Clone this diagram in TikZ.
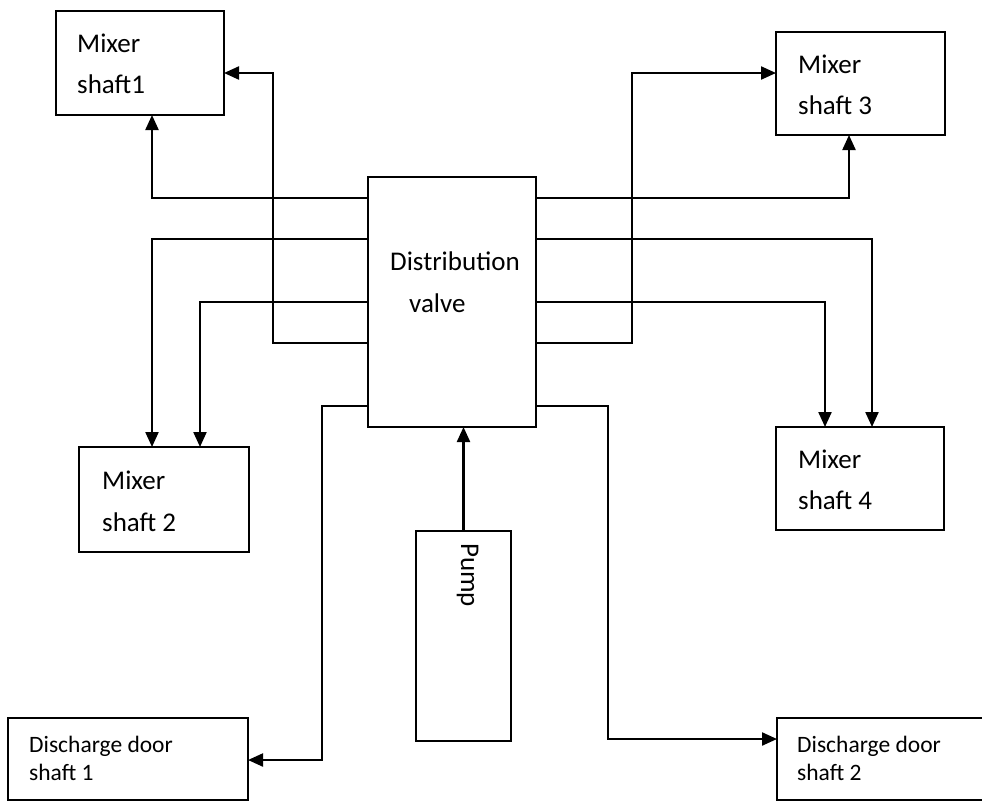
\documentclass[tikz,border=0pt]{standalone}
\usepackage{fontspec}
\setmainfont{Carlito}
\usetikzlibrary{arrows.meta}
\begin{document}
\begin{tikzpicture}[x=1pt,y=-1pt,
  box/.style={draw=black, line width=1.7pt, inner sep=0pt, outer sep=0pt, fill=white},
  lbl/.style={anchor=base west, inner sep=0pt, font=\fontsize{27}{30}\selectfont},
  slbl/.style={anchor=base west, inner sep=0pt, font=\fontsize{23.5}{26}\selectfont},
  flow/.style={line width=2.2pt, -{Triangle[length=15pt,width=13pt]}}]
\useasboundingbox (0,0) rectangle (982,801);
\clip (0,0) rectangle (982,801);

% boxes
\node[box, minimum width=168pt, minimum height=250pt] (valve) at (452,302) {};
\node[box, minimum width=168pt, minimum height=104pt] (ms1) at (140,63) {};
\node[box, minimum width=169pt, minimum height=103pt] (ms3) at (860.5,83.5) {};
\node[box, minimum width=170pt, minimum height=105pt] (ms2) at (164,499.5) {};
\node[box, minimum width=168pt, minimum height=103pt] (ms4) at (860,478.5) {};
\node[box, minimum width=95pt, minimum height=210pt] (pump) at (463.5,636) {};
\node[box, minimum width=240pt, minimum height=82pt] (dd1) at (128,759) {};
\node[box, minimum width=220pt, minimum height=82pt] (dd2) at (887,759) {};

% labels
\node[lbl] (valveA) at (390,270) {Distribution};
\node[lbl] (valveB) at (409,312) {valve};
\node[lbl] (ms1A) at (77,52) {Mixer};
\node[lbl] (ms1B) at (77,93) {shaft1};
\node[lbl] (ms3A) at (798,73) {Mixer};
\node[lbl] (ms3B) at (798,114) {shaft 3};
\node[lbl] (ms2A) at (102,489) {Mixer};
\node[lbl] (ms2B) at (102,531) {shaft 2};
\node[lbl] (ms4A) at (798,468) {Mixer};
\node[lbl] (ms4B) at (798,509) {shaft 4};
\node[lbl, rotate=-90] (pumpA) at (461,543) {Pump};
\node[slbl] (dd1A) at (29,752) {Discharge door};
\node[slbl] (dd1B) at (29,780) {shaft 1};
\node[slbl] (dd2A) at (797,752) {Discharge door};
\node[slbl] (dd2B) at (797,780) {shaft 2};

% bends of the long pipes
\coordinate (bL4) at (273,73);
\coordinate (bL5) at (322,760);
\coordinate (bR4) at (632,73);
\coordinate (bR5) at (608,739);

% left side outlets
\draw[flow] (valve.west |- 0,198) -| (152,0 |- ms1.south);
\draw[flow] (valve.west |- 0,239) -| (152,0 |- ms2.north);
\draw[flow] (valve.west |- 0,302) -| (200,0 |- ms2.north);
\draw[flow] (valve.west |- 0,343) -| (bL4) -- (ms1.east |- bL4);
\draw[flow] (valve.west |- 0,406) -| (bL5) -- (dd1.east |- bL5);

% right side outlets
\draw[flow] (valve.east |- 0,198) -| (849,0 |- ms3.south);
\draw[flow] (valve.east |- 0,239) -| (872,0 |- ms4.north);
\draw[flow] (valve.east |- 0,302) -| (825,0 |- ms4.north);
\draw[flow] (valve.east |- 0,343) -| (bR4) -- (ms3.west |- bR4);
\draw[flow] (valve.east |- 0,406) -| (bR5) -- (dd2.west |- bR5);

% pump feed
\draw[flow] (pump.north) -- (pump.north |- valve.south);
\end{tikzpicture}
\end{document}
